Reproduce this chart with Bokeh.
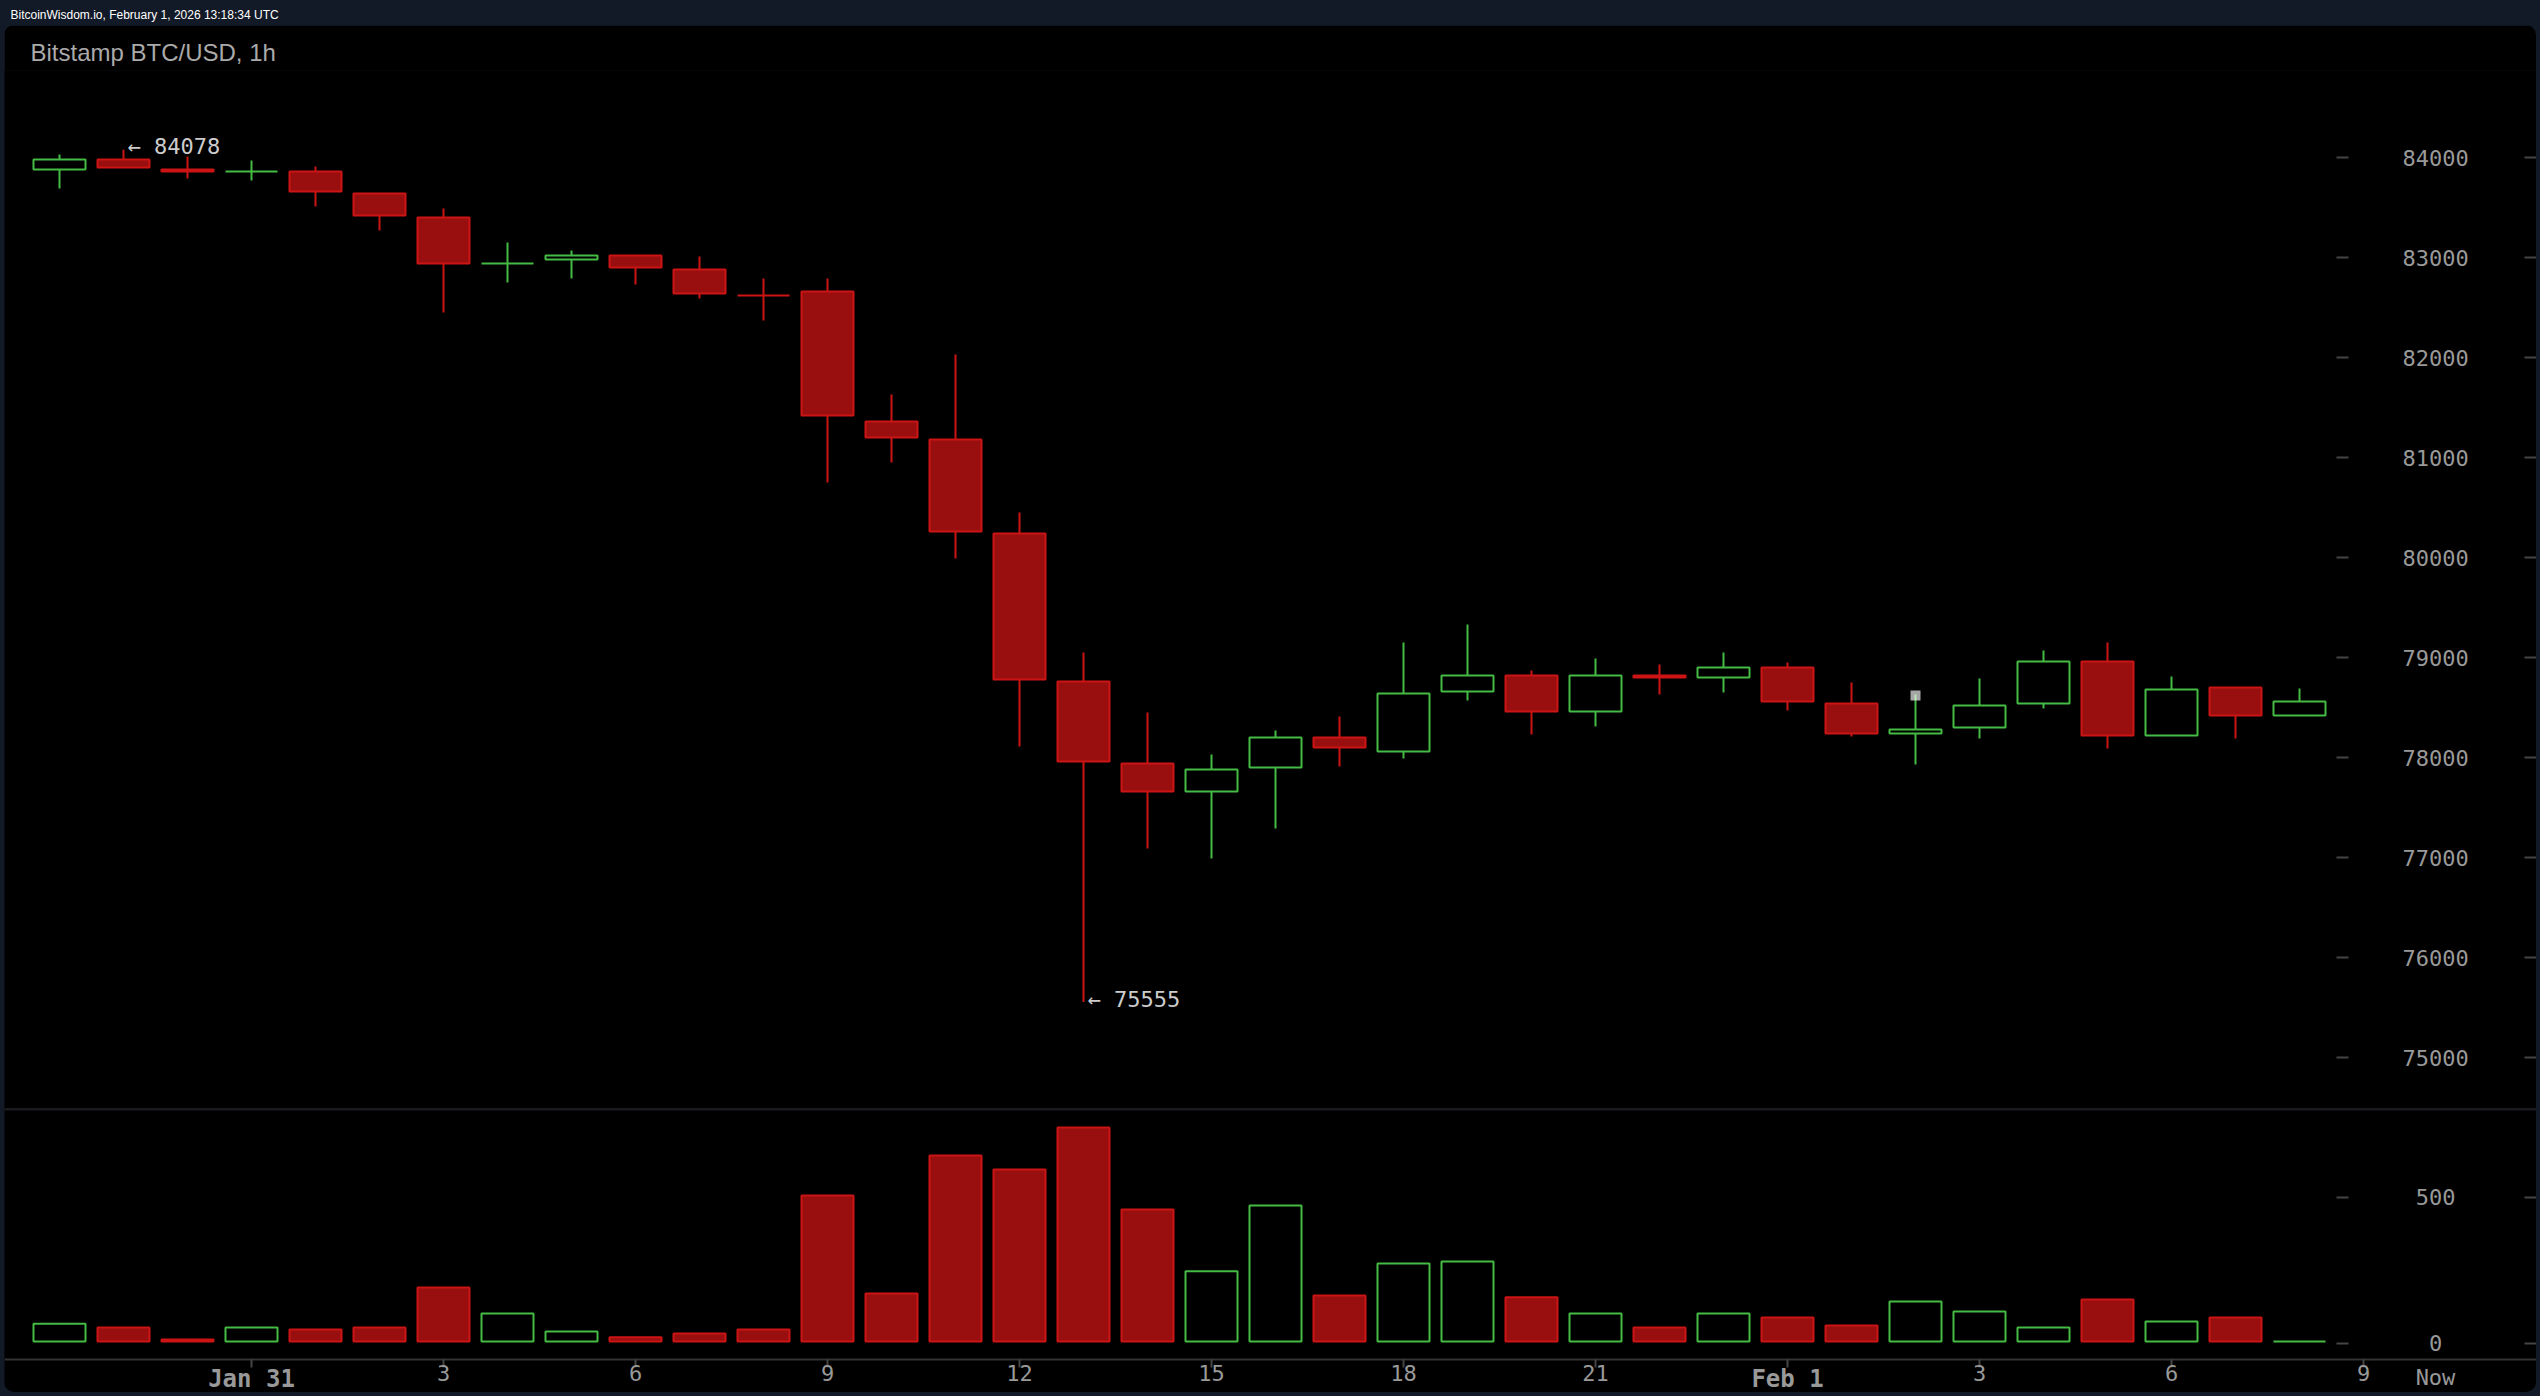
from bokeh.core.properties import value
from bokeh.embed import file_html
from bokeh.layouts import column
from bokeh.models import ColumnDataSource, FixedTicker, LinearAxis, Range1d
from bokeh.plotting import figure
from bokeh.resources import INLINE

# Data, one entry per hourly candle
opens = [83880, 83980, 83880, 83860, 83860, 83640, 83400, 82940, 82980, 83020, 82880, 82620,
         82660, 81360, 81180, 80240, 78760, 77940, 77660, 77900, 78200, 78060, 78660, 78820,
         78460, 78820, 78800, 78900, 78540, 78240, 78300, 78540, 78960, 78220, 78700, 78420]
closes = [83980, 83900, 83860, 83860, 83660, 83420, 82940, 82940, 83020, 82900, 82640, 82620,
          81420, 81200, 80260, 78780, 77960, 77660, 77880, 78200, 78100, 78640, 78820, 78460,
          78820, 78800, 78900, 78560, 78240, 78280, 78520, 78960, 78220, 78680, 78420, 78560]
highs = [84030, 84078, 84010, 83970, 83910, 83640, 83490, 83150, 83070, 83020, 83010, 82790,
         82790, 81630, 82030, 80450, 79050, 78450, 78030, 78270, 78410, 79150, 79330, 78870,
         78990, 78930, 79050, 78950, 78750, 78630, 78790, 79070, 79150, 78810, 78700, 78690]
lows = [83690, 83900, 83790, 83770, 83510, 83270, 82450, 82750, 82790, 82730, 82590, 82370,
        80750, 80950, 79990, 78110, 75555, 77090, 76990, 77290, 77910, 77990, 78570, 78230,
        78310, 78630, 78650, 78470, 78210, 77930, 78190, 78490, 78090, 78220, 78190, 78420]
volumes = [67, 54, 13, 54, 47, 54, 191, 102, 40, 20, 33, 47,
           506, 170, 643, 595, 739, 458, 246, 472, 163, 273, 280, 157,
           102, 54, 102, 88, 61, 143, 109, 54, 150, 74, 88, 6]
is_up = [1, 0, 0, 1, 0, 0, 0, 1, 1, 0, 0, 0,
         0, 0, 0, 0, 0, 0, 1, 1, 0, 1, 1, 0,
         1, 0, 1, 0, 0, 1, 1, 1, 0, 1, 0, 1]

last_price = 78620
max_price = 84078
min_price = 75555
max_index = 1
min_index = 16

price_ticks = [75000, 76000, 77000, 78000, 79000, 80000, 81000, 82000, 83000, 84000]
volume_ticks = [0, 500]
hour_ticks = [6, 9, 12, 15, 18, 21, 24, 30, 33, 36]
hour_labels = {6: "3", 9: "6", 12: "9", 15: "12", 18: "15", 21: "18", 24: "21",
               30: "3", 33: "6", 36: "9"}
day_labels = {3: "Jan 31", 27: "Feb 1"}

NAVY = "#131a27"
RED = "#cc1414"
DARK_RED = "#990f0f"
GREEN = "#44bb44"
LINE = "#333333"
TICK = "#444444"
MONO = "DejaVu Sans Mono"

xs = list(range(len(opens)))
colors = [GREEN if u else RED for u in is_up]
fills = ["#000000" if u else DARK_RED for u in is_up]
source = ColumnDataSource(dict(x=xs, open=opens, close=closes, high=highs, low=lows,
                               vol=volumes, color=colors, fill=fills))

# 64px per candle, first candle 55px into the panel
x_range = Range1d(-55 / 64, (2532 - 55) / 64)
now_x = (2431 - 55) / 64
axis_x = (2332 - 55) / 64
edge_x = (2520 - 55) / 64
vol_floor = -55.8


def make_panel(height, y_range, top, bottom):
    p = figure(width=2532, height=height, x_range=x_range, y_range=y_range,
               x_axis_type=None, y_axis_type=None, output_backend="svg", toolbar_location=None,
               background_fill_color="#000000", border_fill_color="#000000",
               min_border_left=0, min_border_right=0, min_border_top=top, min_border_bottom=bottom)
    p.outline_line_color = None
    p.margin = (0, 4, 0, 4)
    return p


def add_y_axes(p, ticks, overrides=None):
    labelled = LinearAxis(ticker=FixedTicker(ticks=ticks), fixed_location=axis_x)
    labelled.axis_line_color = None
    labelled.major_tick_line_color = TICK
    labelled.major_tick_line_width = 2
    labelled.major_tick_in = 0
    labelled.major_tick_out = 12
    labelled.minor_tick_line_color = None
    labelled.major_label_standoff = 54
    labelled.major_label_text_font = MONO
    labelled.major_label_text_font_size = "22px"
    labelled.major_label_text_color = "#999999"
    if overrides:
        labelled.major_label_overrides = overrides
    p.add_layout(labelled, "right")

    edge = LinearAxis(ticker=FixedTicker(ticks=ticks), fixed_location=edge_x)
    edge.axis_line_color = None
    edge.major_tick_line_color = TICK
    edge.major_tick_line_width = 2
    edge.major_tick_in = 0
    edge.major_tick_out = 12
    edge.minor_tick_line_color = None
    edge.major_label_overrides = {t: "" for t in ticks}
    p.add_layout(edge, "right")


def add_x_axis(p, ticks, labels, tick_color, size="22px", style="normal"):
    axis = LinearAxis(ticker=FixedTicker(ticks=ticks), fixed_location=vol_floor)
    axis.major_label_overrides = labels
    axis.axis_line_color = None
    axis.major_tick_line_color = tick_color
    axis.major_tick_line_width = 2
    axis.major_tick_in = 0
    axis.major_tick_out = 8
    axis.minor_tick_line_color = None
    axis.major_label_standoff = -3
    axis.major_label_text_font = MONO
    axis.major_label_text_font_size = size
    axis.major_label_text_font_style = style
    axis.major_label_text_color = "#999999"
    p.add_layout(axis, "below")
    return axis


# price pane
price = make_panel(1085, Range1d(74480, 84870), 45, 1)
price.title.text = "Bitstamp BTC/USD, 1h"
price.title.text_font = "Liberation Sans"
price.title.text_font_size = "24px"
price.title.text_font_style = "normal"
price.title.text_color = "#aaaaaa"
price.title.offset = 26
price.styles = {"border-radius": "10px 10px 0 0", "overflow": "hidden"}

price.segment("x", "high", "x", "low", source=source, line_color="color", line_width=2)
price.vbar(x="x", top="open", bottom="close", width=52 / 64, source=source,
           fill_color="fill", line_color="color", line_width=2)
price.scatter(x=[29], y=[last_price], marker="square", size=10, fill_color="#ffffff",
              fill_alpha=0.65, line_color=None)
price.text(x=[max_index, min_index], y=[max_price, min_price],
           text=[f"\u2190 {max_price}", f"\u2190 {min_price}"],
           text_font=value(MONO), text_font_size="22px", text_color="#cccccc",
           text_baseline="middle", x_offset=4, y_offset=-3)

add_y_axes(price, price_ticks)

divider = LinearAxis(ticker=FixedTicker(ticks=[]), fixed_location=74480)
divider.axis_line_color = LINE
divider.axis_line_width = 2
price.add_layout(divider, "below")

# volume pane, its frame runs down past the axis line to the end of the panel
vol = make_panel(282, Range1d(-168.8, 796.9), 0, 0)
vol.styles = {"border-radius": "0 0 10px 10px", "overflow": "hidden"}
vol.vbar(x="x", top="vol", bottom=6, width=52 / 64, source=source,
         fill_color="fill", line_color="color", line_width=2)

add_y_axes(vol, volume_ticks, {0: "\u00a0\u00a00", 500: "\u00a0500"})

hours = add_x_axis(vol, hour_ticks, hour_labels, TICK)
hours.axis_line_color = LINE
hours.axis_line_width = 2
add_x_axis(vol, list(day_labels), day_labels, TICK, size="24px", style="bold")
add_x_axis(vol, [now_x], {now_x: "Now"}, None)

# strip along the top of the page
bar = figure(width=2540, height=25, x_range=(0, 2540), y_range=(0, 25),
             x_axis_type=None, y_axis_type=None, output_backend="svg", toolbar_location=None,
             background_fill_color=NAVY, border_fill_color=NAVY, min_border=0)
bar.outline_line_color = None
bar.text(x=[10], y=[11], text=["BitcoinWisdom.io, February 1, 2026 13:18:34 UTC"],
         text_font=value("Liberation Sans"), text_font_size="12px", text_color="#ffffff",
         text_baseline="middle")

page = column(bar, price, vol, spacing=0, width=2540, height=1396,
              styles={"background-color": NAVY})

open("out.html", "w").write(file_html(page, INLINE))
